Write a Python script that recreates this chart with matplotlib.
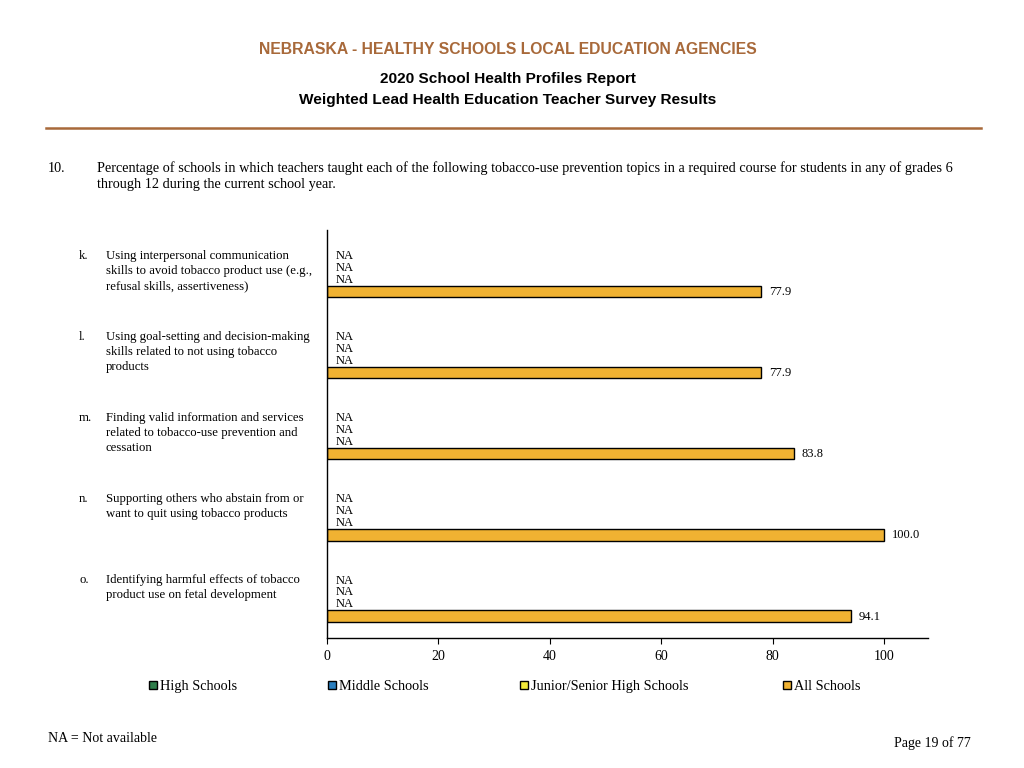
import numpy as np
import matplotlib
matplotlib.use("Agg")
import matplotlib.pyplot as plt
import matplotlib.transforms as mtrans
from matplotlib.patches import Rectangle

plt.rcParams['font.family'] = ['Liberation Serif', 'DejaVu Serif']

# data
letters = ['k.', 'l.', 'm.', 'n.', 'o.']
topics = ['Using interpersonal communication\nskills to avoid tobacco product use (e.g.,\nrefusal skills, assertiveness)',
          'Using goal-setting and decision-making\nskills related to not using tobacco\nproducts',
          'Finding valid information and services\nrelated to tobacco-use prevention and\ncessation',
          'Supporting others who abstain from or\nwant to quit using tobacco products',
          'Identifying harmful effects of tobacco\nproduct use on fetal development']
series = ['High Schools', 'Middle Schools', 'Junior/Senior High Schools', 'All Schools']
high_schools = [np.nan, np.nan, np.nan, np.nan, np.nan]
middle_schools = [np.nan, np.nan, np.nan, np.nan, np.nan]
jr_sr_schools = [np.nan, np.nan, np.nan, np.nan, np.nan]
all_schools = [77.9, 77.9, 83.8, 100.0, 94.1]
colors = ['#2e7d4a', '#2a7fc0', '#f2ea3a', '#f0b232']

values = [high_schools, middle_schools, jr_sr_schools, all_schools]

fig = plt.figure(figsize=(10.24, 7.68), dpi=100)
ax = fig.add_axes([327/1024, 1-638/768, (928-327)/1024, (638-230)/768])

gap = 6.86
for g in range(len(letters)):
    for s in range(len(series)):
        y = g * gap + s
        v = values[s][g]
        if np.isnan(v):
            ax.text(1.6, y, 'NA', va='center', ha='left', fontsize=9)
        else:
            ax.barh(y, v, height=0.95, color=colors[s], edgecolor='black', linewidth=1)
            ax.text(v + 1.4, y + 0.05, f'{v:.1f}', va='center', ha='left', fontsize=9)

ax.set_xlim(0, 107.9)
ax.set_ylim(32.3, -2.21)
ax.set_xticks([0, 20, 40, 60, 80, 100])
ax.set_yticks([])
ax.tick_params(axis='x', direction='out', length=4, labelsize=10, pad=5)
for sp in ['top', 'right']:
    ax.spines[sp].set_visible(False)
ax.spines['left'].set_linewidth(1)
ax.spines['bottom'].set_linewidth(1)

# category labels
tr = mtrans.blended_transform_factory(fig.transFigure, ax.transData)
for g in range(len(letters)):
    y = g * gap - 0.55
    ax.text(79/1024, y, letters[g], transform=tr, va='top', ha='left', fontsize=9.2)
    ax.text(106/1024, y, topics[g], transform=tr, va='top', ha='left', fontsize=9.2, linespacing=1.35)

# header
fig.text(508/1024, 1-50/768, 'NEBRASKA - HEALTHY SCHOOLS LOCAL EDUCATION AGENCIES', ha='center', va='center',
         fontsize=11.3, fontweight='bold', color='#a8693a', family='Liberation Sans')
fig.text(508/1024, 1-79/768, '2020 School Health Profiles Report', ha='center', va='center',
         fontsize=11.1, fontweight='bold', family='Liberation Sans')
fig.text(508/1024, 1-100/768, 'Weighted Lead Health Education Teacher Survey Results', ha='center', va='center',
         fontsize=11.1, fontweight='bold', family='Liberation Sans')
fig.add_artist(plt.Line2D([46/1024, 981/1024], [1-128/768, 1-128/768], color='#a8693a', linewidth=1.8))

fig.text(48/1024, 1-168/768, '10.', ha='left', va='center', fontsize=10.2)
fig.text(97/1024, 1-161/768, 'Percentage of schools in which teachers taught each of the following tobacco-use prevention topics in a required course for students in any of grades 6\nthrough 12 during the current school year.',
         ha='left', va='top', fontsize=10.25, linespacing=1.3)

# legend (drawn by hand so the entries sit on one baseline)
legend_x = [149, 328, 520, 783]
ly = 1 - 685/768
for x, c, name in zip(legend_x, colors, series):
    fig.add_artist(Rectangle((x/1024, ly - 4/768), 8/1024, 8/768, facecolor=c, edgecolor='black',
                             linewidth=1, transform=fig.transFigure))
    fig.text((x + 11)/1024, ly, name, ha='left', va='center_baseline', fontsize=10.3)

fig.text(48/1024, 1-739/768, 'NA = Not available', ha='left', va='center', fontsize=10)
fig.text(971/1024, 1-743/768, 'Page 19 of 77', ha='right', va='center', fontsize=10)

fig.savefig('out.png', dpi=100)
